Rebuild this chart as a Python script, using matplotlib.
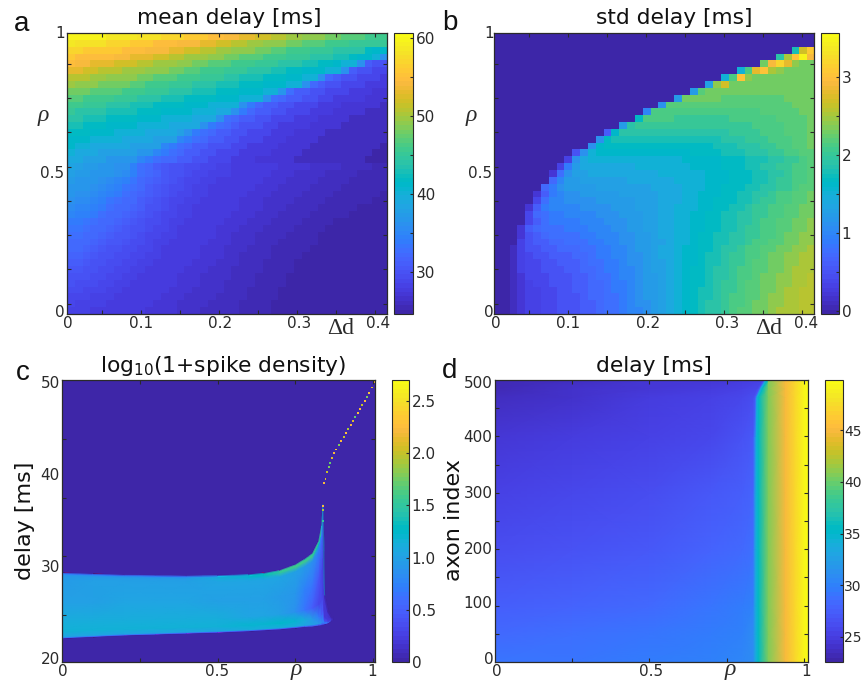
#!/usr/bin/env python3
import numpy as np
import matplotlib
matplotlib.use("Agg")
import matplotlib.pyplot as plt
from matplotlib.colors import ListedColormap

W, H = 863, 683
DARK = "#2a2a2a"

PARULA = [
    [0.2422, 0.1504, 0.6603], [0.2504, 0.1650, 0.7076], [0.2578, 0.1818, 0.7511], [0.2647, 0.1978, 0.7952],
    [0.2706, 0.2147, 0.8364], [0.2751, 0.2342, 0.8710], [0.2783, 0.2559, 0.8991], [0.2803, 0.2782, 0.9221],
    [0.2813, 0.3006, 0.9414], [0.2810, 0.3228, 0.9579], [0.2795, 0.3447, 0.9717], [0.2760, 0.3667, 0.9829],
    [0.2699, 0.3892, 0.9906], [0.2602, 0.4123, 0.9952], [0.2440, 0.4358, 0.9988], [0.2206, 0.4603, 0.9973],
    [0.1963, 0.4847, 0.9892], [0.1834, 0.5074, 0.9798], [0.1786, 0.5289, 0.9682], [0.1764, 0.5499, 0.9520],
    [0.1687, 0.5703, 0.9359], [0.1540, 0.5902, 0.9218], [0.1460, 0.6091, 0.9079], [0.1380, 0.6276, 0.8973],
    [0.1248, 0.6459, 0.8883], [0.1113, 0.6635, 0.8763], [0.0952, 0.6798, 0.8598], [0.0689, 0.6948, 0.8394],
    [0.0297, 0.7082, 0.8163], [0.0036, 0.7203, 0.7917], [0.0067, 0.7312, 0.7660], [0.0433, 0.7411, 0.7394],
    [0.0964, 0.7500, 0.7120], [0.1408, 0.7584, 0.6842], [0.1717, 0.7670, 0.6554], [0.1938, 0.7758, 0.6251],
    [0.2161, 0.7843, 0.5923], [0.2470, 0.7918, 0.5567], [0.2906, 0.7973, 0.5188], [0.3406, 0.8008, 0.4789],
    [0.3909, 0.8029, 0.4354], [0.4456, 0.8024, 0.3909], [0.5044, 0.7993, 0.3480], [0.5616, 0.7942, 0.3045],
    [0.6174, 0.7876, 0.2612], [0.6720, 0.7793, 0.2227], [0.7242, 0.7698, 0.1910], [0.7738, 0.7598, 0.1646],
    [0.8203, 0.7498, 0.1535], [0.8634, 0.7406, 0.1596], [0.9035, 0.7330, 0.1774], [0.9393, 0.7288, 0.2100],
    [0.9728, 0.7298, 0.2394], [0.9956, 0.7434, 0.2371], [0.9970, 0.7659, 0.2199], [0.9952, 0.7893, 0.2028],
    [0.9892, 0.8136, 0.1885], [0.9786, 0.8386, 0.1766], [0.9676, 0.8639, 0.1643], [0.9610, 0.8890, 0.1537],
    [0.9597, 0.9135, 0.1423], [0.9628, 0.9373, 0.1265], [0.9691, 0.9606, 0.1064], [0.9769, 0.9839, 0.0805],
]
cmap = ListedColormap(PARULA)

# panel a, top rows first, rho 1 .. 0, delta d 0 .. 0.40
mean_delay_top = [
    [60,60,60,60,60,59,59,59,59,58,58,58,57,57,57,56,56,56,55,55,54,54,53,53,52,52,51,51,50,50,49,49,49,48,48,47,47,47,46,46,46],
    [59,58,58,58,58,57,57,57,56,56,56,55,55,55,54,54,54,53,53,52,52,51,51,50,50,49,49,49,48,48,47,47,47,46,46,46,45,45,45,45,45],
    [57,57,56,56,56,56,56,55,55,55,54,54,54,53,53,52,52,51,51,50,50,49,49,49,48,48,47,47,46,46,46,45,45,45,44,44,44,44,42,41,41],
    [56,55,55,55,55,55,54,54,53,53,53,52,52,51,51,50,50,50,49,49,48,48,47,47,47,46,46,46,45,45,45,44,44,44,43,43,42,41,41,40,36],
    [55,54,54,53,53,53,52,52,52,51,51,50,50,50,49,49,48,48,47,47,47,46,46,46,45,45,45,44,44,44,43,43,42,42,41,40,40,36,31,30,30],
    [53,53,52,52,51,51,51,50,50,50,49,49,49,48,48,47,47,46,46,46,45,45,45,44,44,44,43,43,42,42,41,41,41,40,40,36,31,30,30,29,29],
    [51,51,51,50,50,49,49,49,49,48,48,47,47,47,46,46,46,45,45,45,44,44,43,43,43,42,42,42,41,41,40,40,36,32,31,30,30,29,29,29,28],
    [50,49,49,49,48,48,48,48,47,47,46,46,46,45,45,45,44,44,44,43,43,43,42,42,42,41,41,41,40,40,36,32,31,30,30,29,29,29,28,28,28],
    [48,48,48,47,47,47,47,46,46,46,45,45,45,44,44,44,43,43,43,42,42,42,41,41,41,40,40,37,33,31,31,30,30,29,29,29,28,28,28,27,27],
    [47,47,46,46,46,46,45,45,45,44,44,44,43,43,43,42,42,42,42,41,41,41,40,40,40,36,33,32,31,31,30,30,29,29,28,28,28,28,27,27,27],
    [46,46,45,45,45,44,44,44,43,43,43,42,42,42,42,41,41,41,40,40,40,40,36,34,32,31,31,30,30,29,29,29,28,28,28,27,27,27,27,27,26],
    [45,44,44,44,44,43,43,43,43,42,42,42,41,41,41,41,40,40,40,39,39,36,34,32,31,31,30,30,29,29,29,28,28,28,27,27,27,27,26,26,26],
    [44,44,43,43,43,42,42,42,42,41,41,41,40,40,40,40,39,39,39,36,33,32,31,31,30,30,29,29,29,28,28,28,27,27,27,27,26,26,26,26,26],
    [43,43,42,42,42,41,41,41,41,40,40,40,40,39,39,39,39,36,34,33,32,31,30,30,30,29,29,28,28,28,28,27,27,27,27,26,26,26,26,26,26],
    [42,42,42,41,41,41,40,40,40,40,39,39,39,39,38,36,34,33,32,31,31,30,30,29,29,29,28,28,28,27,27,27,27,26,26,26,26,26,26,26,26],
    [41,41,41,40,40,40,40,39,39,39,39,38,38,38,35,34,33,32,31,31,30,30,29,29,29,28,28,28,27,27,27,27,26,26,26,26,26,26,26,26,26],
    [41,40,40,39,39,39,39,39,38,38,38,38,35,34,33,32,31,31,30,30,30,29,29,28,28,28,28,27,27,27,27,26,26,26,26,26,26,26,26,26,25],
    [40,39,39,39,38,38,38,38,38,37,37,35,34,33,32,31,31,30,30,29,29,29,28,28,28,28,27,27,27,27,26,26,26,26,26,26,26,26,26,25,25],
    [39,39,38,38,38,37,37,37,37,35,34,33,32,32,31,31,30,30,29,29,29,28,28,28,27,27,27,27,27,26,26,26,26,26,26,26,26,26,25,25,25],
]

# panel a, lower rows, half ms units
mean_delay_low_half = [
    [77,76,75,75,74,73,72,72,69,66,64,62,61,60,60,59,59,58,58,57,57,56,56,56,55,55,55,54,54,54,54,53,53,53,53,52,52,52,52,51,51],
    [76,75,75,74,73,73,72,71,69,66,64,63,61,60,60,59,58,58,57,57,57,56,56,55,55,55,54,54,54,53,53,53,53,52,52,52,52,51,51,51,51],
    [75,74,73,73,72,71,70,69,67,65,63,62,61,60,59,58,58,57,57,56,56,56,55,55,55,54,54,54,53,53,53,53,52,52,52,52,51,51,51,51,51],
    [74,73,73,72,71,70,69,67,66,64,62,61,60,59,59,58,57,57,56,56,56,55,55,55,54,54,54,53,53,53,53,52,52,52,52,51,51,51,51,51,51],
    [73,72,72,71,70,69,68,66,65,63,62,61,60,59,58,58,57,57,56,56,55,55,55,54,54,54,53,53,53,53,52,52,52,52,51,51,51,51,51,51,50],
    [72,71,71,70,69,67,66,65,64,62,61,60,59,58,58,57,57,56,56,56,55,55,54,54,54,53,53,53,53,52,52,52,52,51,51,51,51,51,51,50,50],
    [71,70,70,69,68,66,65,64,63,62,60,60,59,58,57,57,56,56,56,55,55,55,54,54,54,53,53,53,52,52,52,52,51,51,51,51,51,50,50,50,50],
    [70,69,69,68,66,65,64,63,62,61,60,59,58,58,57,57,56,56,55,55,55,54,54,54,53,53,53,52,52,52,52,51,51,51,51,51,50,50,50,50,50],
    [68,68,67,66,65,64,63,62,61,60,59,59,58,57,57,56,56,55,55,55,54,54,54,53,53,53,52,52,52,52,51,51,51,51,50,50,50,50,50,50,50],
    [67,67,66,65,64,63,62,61,60,60,59,58,58,57,56,56,56,55,55,54,54,54,53,53,53,52,52,52,52,51,51,51,51,50,50,50,50,50,50,50,50],
    [66,66,65,64,63,62,61,61,60,59,58,58,57,57,56,56,55,55,55,54,54,53,53,53,52,52,52,52,51,51,51,51] + [50]*9,
    [65,65,64,63,62,61,61,60,59,59,58,57,57,56,56,55,55,55,54,54,54,53,53,53,52,52,52,51,51,51,51,51] + [50]*9,
    [64,64,63,62,61,60,60,59,59,58,58,57,56,56,56,55,55,54,54,54,53,53,53,52,52,52,51,51,51,51,51] + [50]*10,
    [63,63,62,61,60,60,59,59,58,58,57,57,56,56,55,55,55,54,54,54,53,53,52,52,52,52,51,51,51,51] + [50]*11,
    [62,62,61,60,60,59,59,58,58,57,57,56,56,55,55,55,54,54,54,53,53,53,52,52,52,51,51,51,51] + [50]*12,
    [61,61,60,60,59,59,58,58,57,57,56,56,55,55,55,54,54,54,53,53,53,52,52,52,52,51,51,51,51] + [50]*12,
    [60,60,60,59,59,58,58,57,57,56,56,56,55,55,54,54,54,53,53,53,53,52,52,52,51,51,51,51] + [50]*13,
    [60,59,59,59,58,58,57,57,56,56,56,55,55,55,54,54,54,53,53,53,52,52,52,52,51,51,51,51] + [50]*13,
    [59,59,58,58,58,57,57,56,56,56,55,55,55,54,54,54,53,53,53,53,52,52,52,51,51,51,51] + [50]*14,
    [58,58,58,57,57,57,56,56,56,55,55,55,54,54,54,53,53,53,53,52,52,52,52,51,51,51,51] + [50]*14,
    [58,57,57,57,57,56,56,56,55,55,55,54,54,54,53,53,53,53,52,52,52,52,51,51,51,51] + [50]*15,
    [57,57,57,56,56,56,55,55,55,55,54,54,54,54,53,53,53,52,52,52,52,52,51,51,51,51] + [50]*15,
]

# panel b, tenths of a ms, top row first
std_delay_tenths = [
    [0]*41,
    [0]*41,
    [0]*38 + [18,27,31],
    [0]*36 + [19,25,30,35,29],
    [0]*34 + [23,29,32,28,24,23,23],
    [0]*31 + [15,21,28,30,25,24,23,23,23,23],
    [0]*29 + [15,21,30,24,23,23,23,23,23,23,23,23],
    [0]*27 + [13,24,27,23,23,23,23,23,23,23,23,23,23,23],
    [0]*25 + [12,22,23,23,23,23,23,23,23,23,23,23,23,23,23,23],
    [0]*23 + [12,23,23,23,23,23,22,22,22,22,22,22,22,22,23,23,23,23],
    [0]*21 + [11,22,22,22,22,22,22,22,22,22,22,22,22,22,22,22,22,23,23,23],
    [0]*19 + [10,21,21,21,21,21,21,21,21,21,21,21,21,21,21,22,22,22,22,22,23,23],
    [0]*18 + [17,21,21,21,21,20,20,20,20,20,20,20,21,21,21,21,21,21,22,22,22,22,23],
    [0]*16 + [12,19,20,20,20,20,20,20,20,20,20,20,20,20,20,20,20,21,21,21,21,22,22,22,23],
    [0]*14 + [6,16,19,19,19,19,19,19,19,19,19,19,19,19,19,19,20,20,20,20,21,21,21,22,22,22,23],
    [0]*13 + [11,17,18,18,18,18,18,18,18,18,18,18,18,18,18,18,19,19,19,20,20,20,21,21,21,22,22,23],
    [0]*12 + [11,16,17,17,17,17,17,17,17,17,17,17,17,17,17,17,18,18,18,19,19,19,20,20,21,21,22,22,23],
    [0]*10 + [5,11,15,16,16,16,16,16,16,16,16,16,16,16,16,17,17,17,17,18,18,18,19,19,19,20,20,21,21,22,22],
    [0]*9 + [3,11,14,15,15,15,15,15,15,15,15,15,15,15,15,16,16,16,16,16,17,17,17,18,18,18,19,19,20,20,21,22],
    [0]*8 + [3,9,12,14,14,14,14,14,14,14,15,15,15,15,15,15,15,16,16,16,16,17,17,17,18,18,19,19,20,20,21,21,22],
    [0]*7 + [2,8,11,13,13,14,14,14,14,14,14,14,14,14,15,15,15,15,15,15,16,16,16,17,17,17,18,18,19,19,20,21,21,22],
    [0]*7 + [7,10,12,12,13,13,13,13,13,13,14,14,14,14,14,14,15,15,15,15,16,16,16,17,17,17,18,18,19,20,20,21,21,22],
    [0]*6 + [7,9,11,12,12,12,12,13,13,13,13,13,13,13,14,14,14,14,15,15,15,16,16,17,17,17,18,18,19,19,20,20,21,22,22],
    [0]*5 + [2,6,9,10,11,11,12,12,12,12,12,13,13,13,13,13,14,14,14,15,15,16,16,16,17,17,18,18,19,19,20,21,21,22,22,23],
    [0]*5 + [4,8,10,10,11,11,11,11,12,12,12,12,12,13,13,13,14,14,14,15,15,16,16,17,17,17,18,18,19,20,20,21,21,22,22,23],
    [0]*4 + [2,6,9,10,10,10,10,11,11,11,11,12,12,12,13,13,13,14,14,15,15,15,16,16,17,17,18,18,19,20,20,21,21,22,22,23,23],
    [0]*4 + [4,7,8,9,9,10,10,10,10,11,11,11,12,12,12,13,13,14,14,15,15,16,16,17,17,18,18,19,19,20,20,21,21,22,22,23,23],
    [0]*4 + [4,6,8,9,9,9,9,10,10,10,11,11,11,12,12,13,13,14,14,15,15,16,16,17,17,18,18,19,19,20,21,21,22,22,23,23,24],
    [0]*3 + [2,6,7,8,8,8,9,9,9,10,10,10,11,11,12,12,13,13,14,14,15,15,16,16,17,17,18,18,19,20,20,21,21,22,22,23,23,24],
    [0]*3 + [2,5,6,7,8,8,8,8,9,9,10,10,10,11,11,12,12,13,14,14,15,15,16,17,17,18,18,19,19,20,20,21,21,22,23,23,24,24],
    [0]*3 + [3,5,6,6,7,7,8,8,8,9,9,10,10,11,11,12,12,13,13,14,15,15,16,17,17,18,18,19,19,20,21,21,22,22,23,23,24,24],
    [0]*2 + [1,3,5,5,6,6,7,7,7,8,8,9,9,10,10,11,12,12,13,14,14,15,16,16,17,17,18,19,19,20,21,21,22,22,23,23,24,24,25],
    [0]*2 + [1,3,4,5,5,6,6,6,7,7,8,9,9,10,10,11,11,12,13,14,14,15,16,16,17,18,18,19,20,20,21,21,22,23,23,24,24,25,25],
    [0]*2 + [1,3,4,4,5,5,6,6,6,7,8,8,9,9,10,11,11,12,13,13,14,15,16,16,17,18,18,19,20,20,21,22,22,23,23,24,24,25,25],
    [0]*2 + [1,3,4,4,5,5,5,6,6,7,7,8,9,9,10,10,11,12,13,13,14,15,16,17,17,18,19,19,20,21,21,22,22,23,23,24,25,25,25],
    [0]*2 + [1,2,4,4,4,5,5,5,6,6,7,8,8,9,10,10,11,12,12,13,14,15,16,17,17,18,19,19,20,21,21,22,23,23,24,24,25,25,26],
    [0]*2 + [1,2,3,4,4,5,5,5,6,6,7,7,8,9,9,10,11,12,12,13,14,15,16,17,17,18,19,20,20,21,22,22,23,23,24,24,25,25,26],
    [0]*2 + [1,2,3,3,4,4,5,5,6,6,7,7,8,9,9,10,11,12,12,13,14,15,16,17,18,18,19,20,20,21,22,22,23,23,24,25,25,26,26],
    [0]*2 + [1,2,3,3,4,4,5,5,5,6,7,7,8,8,9,10,11,12,12,13,14,15,16,17,18,18,19,20,21,21,22,22,23,24,24,25,25,26,26],
    [0]*2 + [1,2,3,3,4,4,5,5,5,6,6,7,8,8,9,10,11,11,12,13,14,15,16,17,18,19,19,20,21,21,22,23,23,24,24,25,25,26,26],
    [0]*2 + [1,2,3,3,4,4,5,5,5,6,6,7,8,8,9,10,10,11,12,13,14,15,16,17,18,19,19,20,21,22,22,23,23,24,25,25,25,26,26],
]

# panel c, band of spike density
rho_c = [0, 0.005, 0.1, 0.2, 0.3, 0.4, 0.5, 0.6, 0.65, 0.7, 0.75, 0.78, 0.805, 0.825, 0.835, 0.839, 0.844, 0.855, 0.866, 0.87]
lower_c = [22.6, 22.6, 22.75, 22.9, 23.0, 23.1, 23.2, 23.35, 23.45, 23.55, 23.7, 23.8, 23.85, 23.95, 24.0, 24.05, 24.1, 24.2, 24.5, 24.5]
upper_c = [29.4, 29.4, 29.3, 29.2, 29.15, 29.1, 29.15, 29.25, 29.4, 29.7, 30.3, 30.9, 31.5, 32.8, 34.5, 36.7, 27.0, 25.4, 24.8, 24.8]
levels_c = [0, 0.015, 0.1, 0.25, 0.55, 0.9, 0.97, 1]
density_c = [
    [1.4, 1.4, 1.4, 1.4, 1.4, 1.4, 1.4, 1.3],
    [0.7, 1.05, 1.15, 1.1, 1.0, 0.95, 0.9, 0.7],
    [0.6, 1.05, 1.15, 1.12, 1.0, 0.98, 0.95, 0.7],
    [0.6, 1.05, 1.17, 1.12, 1.02, 1.0, 0.95, 0.7],
    [0.6, 1.05, 1.17, 1.12, 1.02, 1.0, 0.95, 0.7],
    [0.5, 1.05, 1.18, 1.12, 1.02, 1.0, 0.95, 0.7],
    [0.5, 1.05, 1.18, 1.1, 1.0, 1.02, 1.1, 0.9],
    [0.5, 1.1, 1.22, 1.05, 1.0, 1.05, 1.2, 1.2],
    [0.5, 1.1, 1.22, 1.02, 0.98, 1.05, 1.3, 1.3],
    [0.5, 1.1, 1.25, 0.98, 0.95, 1.05, 1.5, 1.5],
    [0.5, 1.1, 1.22, 0.85, 0.9, 1.0, 1.6, 1.6],
    [0.5, 1.05, 1.1, 0.65, 0.75, 0.95, 1.6, 1.5],
    [0.5, 1.0, 0.95, 0.5, 0.65, 0.85, 1.6, 1.5],
    [0.5, 0.95, 0.7, 0.3, 0.45, 0.75, 1.3, 1.6],
    [0.5, 0.85, 0.5, 0.3, 0.3, 0.6, 1.1, 1.4],
    [0.5, 0.8, 0.45, 0.25, 0.3, 0.9, 1.1, 1.3],
    [0.5, 0.75, 0.35, 0.2, 0.2, 0.2, 0.2, 0.1],
    [0.5, 0.7, 0.3, 0.25, 0.2, 0.15, 0.1, 0.05],
    [0.2, 0.2, 0.2, 0.2, 0.1, 0.1, 0.05, 0],
    [0, 0, 0, 0, 0, 0, 0, 0],
]
# single dots above the band
dots_rho = [0.8385, 0.839, 0.839, 0.843, 0.847, 0.853, 0.858, 0.862, 0.868, 0.873, 0.882, 0.890, 0.898, 0.905,
            0.913, 0.920, 0.928, 0.935, 0.943, 0.950, 0.958, 0.965, 0.973, 0.980, 0.988, 0.995, 1.003]
dots_delay = [35.0, 36.2, 36.6, 39.0, 39.5, 40.2, 40.7, 41.2, 41.7, 42.2, 42.6, 43.1, 43.5, 43.9,
              44.35, 44.8, 45.2, 45.6, 46.05, 46.5, 46.9, 47.3, 47.75, 48.2, 48.6, 49.2, 49.75]
dots_density = [1.5, 1.9, 2.2, 2.2, 2.1, 2.0, 1.8, 1.7, 2.1, 2.2, 2.3, 1.8, 2.2, 2.0,
                2.3, 1.9, 2.2, 2.1, 1.7, 2.3, 2.2, 2.0, 2.2, 1.8, 2.3, 2.1, 2.2]

# panel d
rho_d = [0, 0.25, 0.5, 0.7, 0.8, 0.835, 0.842, 0.846, 0.853, 0.885, 0.94, 0.97, 1.0, 1.013]
axon_d = [0, 50, 100, 200, 300, 400, 470, 485, 500]
edge_shift_d = [0, 0, 0, 0, 0, 0, 0.002, 0.014, 0.03]
delay_d = [
    [29.0, 29.2, 29.5, 30.0, 30.5, 31.0, 33.0, 34.5, 35.5, 40.5, 45, 47, 49, 49.5],
    [28.5, 28.7, 29.0, 29.5, 30.2, 30.8, 33.0, 34.5, 35.5, 40.5, 45, 47, 49, 49.5],
    [27.5, 28.0, 28.5, 29.0, 29.5, 30.0, 33.0, 34.5, 35.5, 40.5, 45, 47, 49, 49.5],
    [26.0, 26.5, 27.0, 27.8, 28.3, 28.8, 32.5, 34.5, 35.5, 40.5, 45, 47, 49, 49.5],
    [25.3, 25.7, 26.2, 27.0, 27.6, 28.0, 32.0, 34.5, 35.5, 40.5, 45, 47, 49, 49.5],
    [24.5, 24.8, 25.2, 25.8, 26.5, 27.0, 31.0, 34.5, 35.5, 40.5, 45, 47, 49, 49.5],
    [23.5, 24.2, 24.8, 25.3, 25.8, 26.3, 28.0, 34.0, 35.5, 40.5, 45, 47, 49, 49.5],
    [23.4, 24.0, 24.6, 25.0, 25.4, 25.8, 27.0, 33.0, 35.5, 40.5, 45, 47, 49, 49.5],
    [23.1, 23.7, 24.3, 24.7, 25.1, 25.5, 26.5, 33.0, 35.5, 40.5, 45, 47, 49, 49.5],
]

# text labels, (text, x px, y px)
labels_ab = [
    ("1", 60, 34), ("0.5", 52, 173), ("0", 60, 313), ("0", 68, 324), ("0.1", 141, 324), ("0.2", 220, 324),
    ("0.3", 299, 324), ("0.4", 378, 324),
    ("1", 489, 34), ("0.5", 480, 173), ("0", 489, 313), ("0", 496, 324), ("0.1", 568, 324), ("0.2", 648, 324),
    ("0.3", 727, 324), ("0.4", 806, 324),
]
labels_cd = [
    ("50", 50, 383), ("40", 50, 476), ("30", 50, 568), ("20", 50, 660), ("0", 63, 672), ("0.5", 217, 672), ("1", 372, 672),
    ("500", 478, 384), ("400", 478, 438), ("300", 478, 493), ("200", 478, 549), ("100", 478, 604), ("0", 489, 659),
    ("0", 497, 672), ("0.5", 651, 672), ("1", 806, 672),
]
titles = [("mean delay [ms]", 229, 18), ("std delay [ms]", 674, 18),
          ("log$_{10}$(1+spike density)", 223, 366), ("delay [ms]", 654, 366)]
letters = [("a", 22, 24), ("b", 450, 23), ("c", 23, 373), ("d", 450, 371)]


def px_axes(fig, left, right, top, bottom):
    return fig.add_axes([left / W, 1 - bottom / H, (right - left) / W, (bottom - top) / H])


def px_text(fig, x, y, s, **kw):
    kw.setdefault("color", DARK)
    fig.text(x / W, 1 - y / H, s, ha="center", va="center", **kw)


def style_axes(ax):
    ax.tick_params(which="both", direction="in", top=True, right=True, length=3, width=0.8,
                   color=DARK, labelbottom=False, labelleft=False)
    for sp in ax.spines.values():
        sp.set_color(DARK)
        sp.set_linewidth(0.9)


def add_cbar(fig, mappable, left, right, top, bottom, major, major_labels, minor, size=11, pad=2):
    cax = px_axes(fig, left, right, top, bottom)
    cb = fig.colorbar(mappable, cax=cax)
    cb.set_ticks(major, labels=major_labels)
    cb.set_ticks(minor, minor=True)
    cax.tick_params(which="both", direction="in", length=2.5, width=0.8, color=DARK,
                    labelsize=size, pad=pad, labelcolor=DARK)
    cb.outline.set_edgecolor(DARK)
    cb.outline.set_linewidth(0.8)


def plot_grid(fig, rows, px, vmin, vmax):
    ax = px_axes(fig, *px)
    im = ax.imshow(rows, cmap=cmap, vmin=vmin, vmax=vmax, aspect="auto",
                   interpolation="nearest", extent=(-0.005, 0.405, -0.0125, 1.0125))
    ax.set_xticks(np.arange(0.04, 0.40, 0.05))
    ax.set_yticks(np.arange(0.025, 0.95, 0.125))
    style_axes(ax)
    return im


def plot_c(fig):
    ax = px_axes(fig, 62, 375, 380, 662)
    ax.set_facecolor(PARULA[0])
    lower = np.array(lower_c)[:, None]
    upper = np.array(upper_c)[:, None]
    inner = lower + (upper - lower) * np.array(levels_c)[None, :]
    yy = np.hstack([lower - 0.06, inner, upper + 0.06])
    xx = np.repeat(np.array(rho_c)[:, None], yy.shape[1], axis=1)
    dens = np.array(density_c)
    cc = np.hstack([np.zeros((len(rho_c), 1)), dens, np.zeros((len(rho_c), 1))])
    mesh = ax.pcolormesh(xx, yy, cc, cmap=cmap, vmin=0, vmax=2.7, shading="gouraud")
    ax.scatter(dots_rho, dots_delay, c=dots_density, cmap=cmap, vmin=0, vmax=2.7, s=1.8, marker="s", linewidths=0)
    ax.set_xlim(0, 1.006)
    ax.set_ylim(20, 50)
    ax.set_xticks([0.25, 0.5, 0.75, 1.0])
    ax.set_yticks([25, 31.25, 37.5, 43.75])
    style_axes(ax)
    return mesh


def plot_d(fig):
    ax = px_axes(fig, 495, 808, 380, 662)
    xx = np.tile(np.array(rho_d), (len(axon_d), 1))
    # the sharp edge bends to the right near the top
    xx[:, 5:9] += np.array(edge_shift_d)[:, None]
    yy = np.tile(np.array(axon_d)[:, None], (1, len(rho_d)))
    mesh = ax.pcolormesh(xx, yy, np.array(delay_d), cmap=cmap, vmin=22.58, vmax=49.84, shading="gouraud")
    ax.set_xlim(0, 1.013)
    ax.set_ylim(0, 500)
    ax.set_xticks([0.25, 0.5, 0.75, 1.0])
    ax.set_yticks(np.arange(50, 500, 50))
    style_axes(ax)
    return mesh


def main():
    fig = plt.figure(figsize=(W / 100, H / 100), dpi=100, facecolor="white")

    mean_delay = np.vstack([np.array(mean_delay_top, dtype=float), np.array(mean_delay_low_half) / 2])
    im_a = plot_grid(fig, mean_delay, (67, 387, 33, 314), 24.66, 60.7)
    add_cbar(fig, im_a, 394, 413, 33, 314, [30, 40, 50, 60], ["30", "40", "50", "60"], [35, 45, 55])

    im_b = plot_grid(fig, np.array(std_delay_tenths) / 10, (494, 814, 33, 314), -0.04, 3.56)
    add_cbar(fig, im_b, 821, 839, 33, 314, [0, 1, 2, 3], ["0", "1", "2", "3"], [0.5, 1.5, 2.5])

    mesh_c = plot_c(fig)
    add_cbar(fig, mesh_c, 392, 409, 380, 662, [0, 0.5, 1, 1.5, 2, 2.5],
             ["0", "0.5", "1.0", "1.5", "2.0", "2.5"], [])

    mesh_d = plot_d(fig)
    add_cbar(fig, mesh_d, 825, 843, 380, 662, [25, 30, 35, 40, 45], ["25", "30", "35", "40", "45"], [],
             size=10, pad=1)

    for s, x, y in labels_ab + labels_cd:
        px_text(fig, x, y, s, fontsize=11)
    for s, x, y in titles:
        px_text(fig, x, y, s, fontsize=15.7, color="#111111")
    for s, x, y in letters:
        px_text(fig, x, y, s, fontsize=20, family="Liberation Sans", color="#111111")

    for x, y in [(43, 115), (471, 115), (296, 670), (730, 670)]:
        px_text(fig, x, y, "ρ", fontsize=17, family="Liberation Serif", style="italic")
    for x, y in [(341, 328), (769, 328)]:
        px_text(fig, x, y, "Δd", fontsize=17, family="Liberation Serif")

    px_text(fig, 25, 521, "delay [ms]", fontsize=16, rotation=90, color="#111111")
    px_text(fig, 454, 520, "axon index", fontsize=16, rotation=90, color="#111111")

    fig.savefig("out.png", dpi=100)
    plt.close(fig)


if __name__ == "__main__":
    main()
